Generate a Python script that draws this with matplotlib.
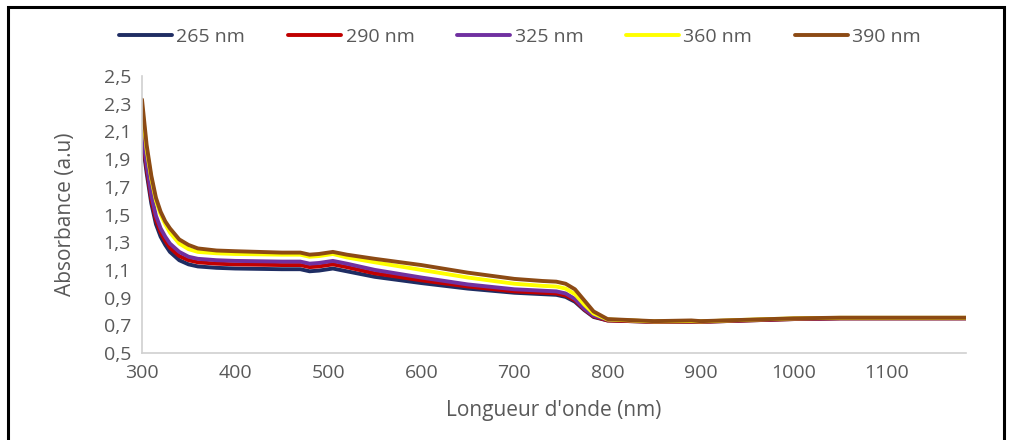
import numpy as np
import matplotlib.pyplot as plt
from matplotlib.patches import Rectangle
from matplotlib.ticker import FuncFormatter

plt.rcParams['font.family'] = ['Open Sans', 'DejaVu Sans']

# longueurs d'onde (nm)
wl = [300, 305, 310, 315, 320, 325, 330, 340, 350, 360, 380, 400, 450, 470, 480, 490,
      505, 520, 550, 600, 650, 700, 730, 745, 755, 765, 775, 785, 800, 850, 890,
      900, 950, 1000, 1050, 1100, 1150, 1185]

abs_265 = [2.05, 1.80, 1.58, 1.43, 1.34, 1.28, 1.23, 1.17, 1.14, 1.125, 1.115, 1.11, 1.105, 1.105, 1.09, 1.095,
           1.11, 1.09, 1.05, 1.005, 0.965, 0.935, 0.925, 0.92, 0.905, 0.87, 0.81, 0.76, 0.735, 0.725, 0.725,
           0.725, 0.735, 0.745, 0.75, 0.75, 0.75, 0.75]
abs_290 = [2.08, 1.83, 1.61, 1.46, 1.37, 1.31, 1.26, 1.20, 1.17, 1.155, 1.145, 1.14, 1.135, 1.135, 1.12, 1.125,
           1.14, 1.12, 1.075, 1.025, 0.98, 0.945, 0.935, 0.93, 0.915, 0.88, 0.815, 0.765, 0.735, 0.725, 0.725,
           0.725, 0.735, 0.745, 0.75, 0.75, 0.75, 0.75]
abs_325 = [2.10, 1.86, 1.64, 1.49, 1.40, 1.34, 1.29, 1.23, 1.195, 1.18, 1.17, 1.165, 1.16, 1.16, 1.145, 1.15,
           1.165, 1.145, 1.10, 1.045, 0.995, 0.96, 0.95, 0.945, 0.93, 0.89, 0.82, 0.77, 0.74, 0.728, 0.728,
           0.728, 0.738, 0.748, 0.752, 0.752, 0.752, 0.752]
abs_360 = [2.28, 1.97, 1.76, 1.60, 1.50, 1.43, 1.37, 1.29, 1.25, 1.23, 1.22, 1.215, 1.21, 1.21, 1.195, 1.20,
           1.215, 1.19, 1.155, 1.10, 1.045, 1.0, 0.985, 0.98, 0.965, 0.925, 0.85, 0.785, 0.742, 0.728, 0.73,
           0.728, 0.74, 0.75, 0.754, 0.754, 0.754, 0.754]
abs_390 = [2.33, 2.00, 1.78, 1.62, 1.52, 1.45, 1.40, 1.32, 1.28, 1.255, 1.24, 1.235, 1.225, 1.225, 1.21, 1.215,
           1.23, 1.21, 1.18, 1.135, 1.08, 1.035, 1.02, 1.015, 1.00, 0.96, 0.88, 0.80, 0.745, 0.73, 0.735,
           0.73, 0.74, 0.75, 0.755, 0.755, 0.755, 0.755]

labels = ["265 nm", "290 nm", "325 nm", "360 nm", "390 nm"]
colors = ["#1F2D63", "#C00000", "#7030A0", "#FFFF00", "#8C4A14"]
series = [abs_265, abs_290, abs_325, abs_360, abs_390]

fig = plt.figure(figsize=(10.1, 4.4), dpi=100)
ax = fig.add_axes([142 / 1010, 1 - 353 / 440, (966 - 142) / 1010, (353 - 76) / 440])

for lab, col, y in zip(labels, colors, series):
    ax.plot(wl, y, color=col, linewidth=2.8, label=lab,
            solid_capstyle='round', solid_joinstyle='round')

ax.set_xlim(300, 1185)
ax.set_ylim(0.5, 2.5)
ax.set_xticks(np.arange(300, 1101, 100))
ax.set_yticks(np.arange(0.5, 2.51, 0.2))
ax.yaxis.set_major_formatter(FuncFormatter(lambda v, p: f"{v:.1f}".replace(".", ",")))

for s in ["top", "right"]:
    ax.spines[s].set_visible(False)
for s in ["left", "bottom"]:
    ax.spines[s].set_color("#D0D0D0")
    ax.spines[s].set_linewidth(1.2)
ax.tick_params(length=0, labelsize=14, colors="#595959", pad=8)

ax.set_xlabel("Longueur d'onde (nm)", fontsize=15, color="#595959", labelpad=13)
ax.set_ylabel("Absorbance (a.u)", fontsize=15, color="#595959", labelpad=20)

fig.legend(loc="center", bbox_to_anchor=(0.515, 0.916), ncol=5, frameon=False,
           fontsize=14, handlelength=2.7, columnspacing=2.2, handletextpad=0.25,
           labelcolor="#595959")

# cadre noir autour de l'image
fig.patches.append(Rectangle((8 / 1010, -0.05), (1004 - 8) / 1010, 1.05 - 7 / 440,
                             transform=fig.transFigure, fill=False,
                             edgecolor="black", linewidth=2.2))

fig.savefig("out.png", dpi=100)
